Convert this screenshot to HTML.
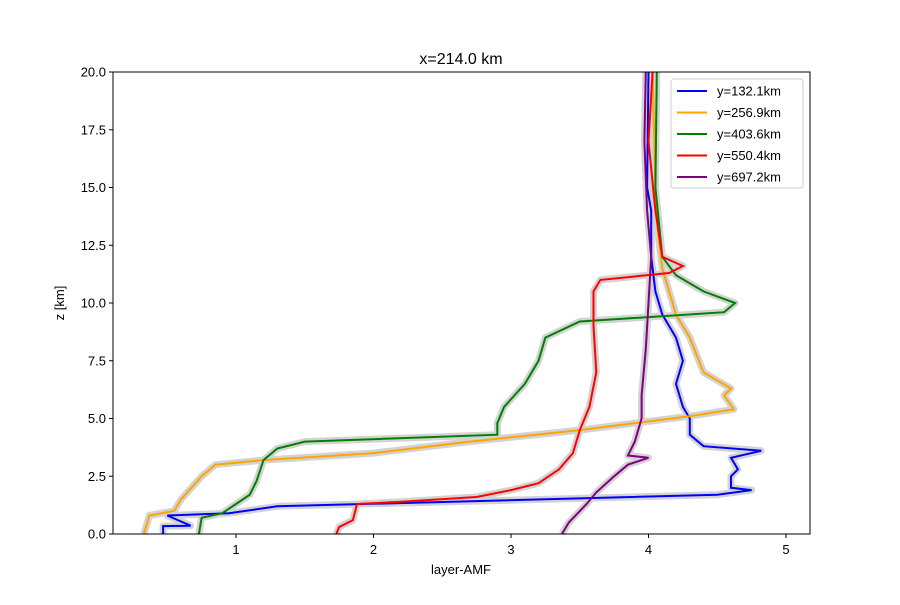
<!DOCTYPE html>
<html><head><meta charset="utf-8"><style>
body{margin:0;background:#fff;font-family:"Liberation Sans","DejaVu Sans",sans-serif}
</style></head><body>
<svg id="chart" width="900" height="600" xmlns="http://www.w3.org/2000/svg" font-family="Liberation Sans, DejaVu Sans, sans-serif">
<rect width="900" height="600" fill="#fff"/>
<text x="461" y="64" text-anchor="middle" font-size="16">x=214.0 km</text>
<g id="bands"></g><g id="lines"></g>
<rect x="113" y="72" width="697" height="462" fill="none" stroke="#000" stroke-width="1"/>
<g id="xticks"></g><g id="yticks"></g>
<text x="461" y="574" text-anchor="middle" font-size="13">layer-AMF</text>
<text transform="translate(64,303) rotate(-90)" text-anchor="middle" font-size="13">z [km]</text>
<g id="legend"></g>
</svg>
<script>
const names=["y=132.1km","y=256.9km","y=403.6km","y=550.4km","y=697.2km"];
const colors=["blue","orange","green","red","purple"];
const zBlue=[0,0.34,0.36,0.8,0.9,1.2,1.7,1.9,2.0,2.5,2.8,3.3,3.6,3.8,4.3,5.0,5.5,6.5,7.5,8.5,9.5,10.5,12,14,15,20];
const xBlue=[0.47,0.47,0.67,0.5,0.95,1.3,4.5,4.75,4.6,4.6,4.65,4.6,4.82,4.4,4.3,4.3,4.25,4.2,4.25,4.2,4.1,4.05,4.02,4.02,3.99,4.0];
const zOrange=[0,0.8,1.0,1.5,2.5,3.0,3.2,3.5,4.0,4.5,5.1,5.4,6.0,6.3,7.0,8.5,9.0,9.5,10.5,11.5,13,15,20];
const xOrange=[0.33,0.37,0.55,0.6,0.75,0.85,1.2,2.0,2.7,3.5,4.3,4.62,4.55,4.6,4.4,4.3,4.25,4.2,4.15,4.1,4.07,4.05,4.03];
const zGreen=[0,0.7,0.9,1.3,1.7,2.3,3.2,3.7,4.0,4.3,4.8,5.5,6.5,7.5,8.5,9.2,9.6,10.0,10.5,11.2,12,15,20];
const xGreen=[0.73,0.75,0.9,1.0,1.1,1.15,1.2,1.3,1.5,2.9,2.9,2.95,3.1,3.2,3.25,3.5,4.55,4.63,4.4,4.2,4.1,4.05,4.06];
const zRed=[0,0.3,0.6,1.3,1.4,1.6,1.9,2.2,2.8,3.5,4.5,5.5,7,9,10.5,11,11.3,11.6,12,14,17,20];
const xRed=[1.73,1.75,1.85,1.88,2.2,2.75,3.0,3.2,3.35,3.45,3.5,3.57,3.62,3.6,3.6,3.65,4.15,4.25,4.1,4.05,4.0,4.03];
const zPurple=[0,0.5,1.3,1.8,2.5,3.0,3.3,3.4,4.0,5.0,6,8,10,12,14,17,20];
const xPurple=[3.37,3.42,3.55,3.62,3.75,3.85,4.0,3.85,3.9,3.95,3.95,3.98,4.0,4.02,3.99,3.97,3.98];
const xTickVals=[1,2,3,4,5];
const yTickVals=[0,2.5,5,7.5,10,12.5,15,17.5,20];
const yTickLabels=["0.0","2.5","5.0","7.5","10.0","12.5","15.0","17.5","20.0"];
const NS="http://www.w3.org/2000/svg";
const xs=v=>98.5+v*137.5, ys=v=>534-v*23.1;
const series=[[xBlue,zBlue],[xOrange,zOrange],[xGreen,zGreen],[xRed,zRed],[xPurple,zPurple]];
const bands=document.getElementById('bands'),lines=document.getElementById('lines');
series.forEach((s,i)=>{
 const d=s[0].map((v,j)=>(j?'L':'M')+xs(v).toFixed(1)+','+ys(s[1][j]).toFixed(1)).join('');
 const b=document.createElementNS(NS,'path');
 
 
 b.setAttribute('d',d);b.setAttribute('fill','none');b.setAttribute('stroke','#d3d3d3');b.setAttribute('stroke-width','7');b.setAttribute('stroke-linejoin','round');
 bands.appendChild(b);
 const p=document.createElementNS(NS,'path');
 
 
 p.setAttribute('d',d);p.setAttribute('fill','none');p.setAttribute('stroke',colors[i]);p.setAttribute('stroke-width','2');
 lines.appendChild(p);
});
const xt=document.getElementById('xticks');
xTickVals.forEach(v=>{
 const g=document.createElementNS(NS,'g');
 
 
 g.innerHTML=`<line x1="${xs(v)}" x2="${xs(v)}" y1="534" y2="538" stroke="#000"/><text x="${xs(v)}" y="554" text-anchor="middle" font-size="13">${v}</text>`;
 xt.appendChild(g);
});
const yt=document.getElementById('yticks');
yTickVals.forEach((v,i)=>{
 const g=document.createElementNS(NS,'g');
 
 
 g.innerHTML=`<line x1="109" x2="113" y1="${ys(v)}" y2="${ys(v)}" stroke="#000"/><text x="106" y="${ys(v)+4.5}" text-anchor="end" font-size="13">${yTickLabels[i]}</text>`;
 yt.appendChild(g);
});
const lg=document.getElementById('legend');
lg.innerHTML='<rect x="671" y="79" width="132" height="109" rx="3" fill="#fff" stroke="#ccc"/>';
names.forEach((n,i)=>{
 const g=document.createElementNS(NS,'g');
 
 
 const y=91+i*21.5;
 g.innerHTML=`<line x1="677" x2="707" y1="${y}" y2="${y}" stroke="${colors[i]}" stroke-width="2"/><text x="717" y="${y+4.5}" font-size="13">${n}</text>`;
 lg.appendChild(g);
});
</script>
</body></html>
